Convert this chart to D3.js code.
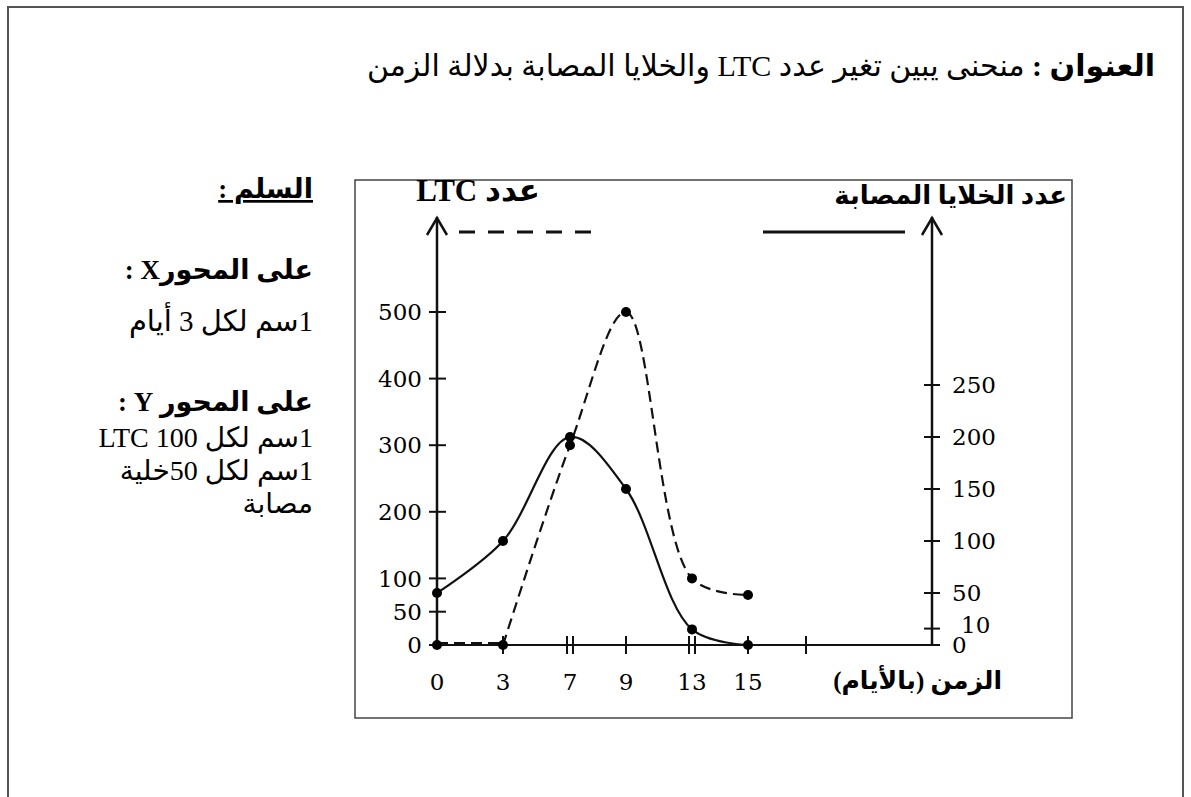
<!DOCTYPE html>
<html><head><meta charset="utf-8">
<script src="https://cdn.jsdelivr.net/npm/d3@7"></script>
<style>body{margin:0;background:#fff}svg{display:block}</style>
</head><body><svg id="c" width="1191" height="797"></svg>
<script>
// ---- data ----
const days = [0, 3, 7, 9, 13, 15];
const ltcValues = [0, 0, 300, 500, 100, 75];          // dashed, left axis
const infectedValues = [50, 100, 200, 150, 15, 0];     // solid, right axis
const xTickDays = [0, 3, 7, 9, 13, 15, 18];
const xTickLabels = ["0", "3", "7", "9", "13", "15", ""];
const doubleTickDays = [7, 13];
const leftTicks = [0, 50, 100, 200, 300, 400, 500];
const rightTicks = [0, 10, 50, 100, 150, 200, 250];
const titleBold = "العنوان :";
const titleRest = " منحنى يبين تغير عدد LTC والخلايا المصابة بدلالة الزمن";
const leftAxisTitle = "عدد LTC";
const rightAxisTitle = "عدد الخلايا المصابة";
const xAxisTitle = "الزمن (بالأيام)";
const scaleLines = [
  {t: "السلم :", bold: true, u: true},
  {t: "على المحورX :", bold: true},
  {t: "1سم لكل 3 أيام", bold: false},
  {t: "على المحور Y :", bold: true},
  {t: "1سم لكل 100 LTC", bold: false},
  {t: "1سم لكل 50خلية", bold: false},
  {t: "مصابة", bold: false}
];

// ---- layout ----
const svg = d3.select("#c");
const FONT = "'Liberation Serif','DejaVu Sans',serif";
const NUMFONT = "'DejaVu Serif',serif";
const x0 = 437, xRightAxis = 932, yZero = 645, yTopArrow = 217;
const slotGaps = [0, 66, 133, 189, 255, 311, 369];
const x = d3.scaleLinear().domain(xTickDays).range(slotGaps.map(g => x0 + g));
const yL = d3.scaleLinear().domain([0, 500]).range([yZero, 312]);
const yR = d3.scaleLinear().domain([0, 250]).range([yZero, 385]);

// outer frame
svg.append("path").attr("d", "M8,800 L8,7 L1183,7 L1183,800")
  .attr("fill", "none").attr("stroke", "#555").attr("stroke-width", 2);
// inner chart box
svg.append("rect").attr("x", 355).attr("y", 180).attr("width", 717).attr("height", 538)
  .attr("fill", "none").attr("stroke", "#444").attr("stroke-width", 1.5);

// title
const tt = svg.append("text").attr("x", 1155).attr("y", 76)
  .attr("direction", "rtl").attr("text-anchor", "start")
  .style("font-family", FONT).style("font-size", "30px");
tt.append("tspan").style("font-weight", "bold").text(titleBold);
tt.append("tspan").text(titleRest);

// scale block
const scaleY = [198, 279, 331, 411, 447, 480, 513];
scaleLines.forEach((l, i) => {
  svg.append("text").attr("x", 313).attr("y", scaleY[i])
    .attr("direction", "rtl").attr("text-anchor", "start")
    .style("font-family", FONT).style("font-size", l.bold ? "27px" : (i >= 4 ? "28px" : "29px"))
    .style("font-weight", l.bold ? "bold" : "normal")
    .style("text-decoration", l.u ? "underline" : "none")
    .text(l.t);
});

// axes
const axisG = svg.append("g").attr("stroke", "#111").attr("fill", "none");
axisG.append("line").attr("x1", x0).attr("x2", x0).attr("y1", yZero).attr("y2", yTopArrow).attr("stroke-width", 2.5);
axisG.append("line").attr("x1", xRightAxis).attr("x2", xRightAxis).attr("y1", yZero).attr("y2", yTopArrow).attr("stroke-width", 2.5);
axisG.append("line").attr("x1", x0).attr("x2", xRightAxis).attr("y1", yZero).attr("y2", yZero).attr("stroke-width", 2);
[x0, xRightAxis].forEach(ax => {
  axisG.append("path").attr("d", `M${ax - 10},${yTopArrow + 18} L${ax},${yTopArrow + 1} L${ax + 10},${yTopArrow + 18}`)
    .attr("stroke-width", 2.5);
});

// left ticks
leftTicks.forEach(v => {
  axisG.append("line").attr("x1", x0 - 8).attr("x2", x0 + 9).attr("y1", yL(v)).attr("y2", yL(v)).attr("stroke-width", 2);
  svg.append("text").attr("x", x0 - 15).attr("y", yL(v)).attr("dy", "0.36em")
    .attr("text-anchor", "end").style("font-family", NUMFONT).style("font-size", "23px").text(v);
});
// right ticks
rightTicks.forEach(v => {
  axisG.append("line").attr("x1", xRightAxis - 8).attr("x2", xRightAxis + 8).attr("y1", yR(v) - (v === 10 ? 6 : 0)).attr("y2", yR(v) - (v === 10 ? 6 : 0)).attr("stroke-width", 2);
  svg.append("text").attr("x", xRightAxis + 20 + (v === 10 ? 9 : 0)).attr("y", yR(v) - (v === 10 ? 10 : 0)).attr("dy", "0.36em")
    .attr("text-anchor", "start").style("font-family", NUMFONT).style("font-size", "23px").text(v);
});
// x ticks
xTickDays.forEach((d, i) => {
  if (d > 0) {
    const offs = doubleTickDays.includes(d) ? [-3, 3] : [0];
    offs.forEach(o => axisG.append("line").attr("x1", x(d) + o).attr("x2", x(d) + o)
      .attr("y1", yZero - 9).attr("y2", yZero + 9).attr("stroke-width", 2));
  }
  svg.append("text").attr("x", x(d)).attr("y", 690).attr("text-anchor", "middle")
    .style("font-family", NUMFONT).style("font-size", "23px").text(xTickLabels[i]);
});

// axis titles
svg.append("text").attr("x", 540).attr("y", 201).attr("direction", "rtl").attr("text-anchor", "start")
  .style("font-family", FONT).style("font-size", "31px").style("font-weight", "bold").text(leftAxisTitle);
svg.append("text").attr("x", 1067).attr("y", 204).attr("direction", "rtl").attr("text-anchor", "start")
  .style("font-family", FONT).style("font-size", "26px").style("font-weight", "bold").text(rightAxisTitle);
svg.append("text").attr("x", 1002).attr("y", 689).attr("direction", "rtl").attr("text-anchor", "start")
  .style("font-family", FONT).style("font-size", "25px").style("font-weight", "bold").text(xAxisTitle);

// legend keys
svg.append("line").attr("x1", 459).attr("x2", 602).attr("y1", 232).attr("y2", 232)
  .attr("stroke", "#111").attr("stroke-width", 3).attr("stroke-dasharray", "16,13");
svg.append("line").attr("x1", 763).attr("x2", 905).attr("y1", 232).attr("y2", 232)
  .attr("stroke", "#111").attr("stroke-width", 3);

// curves
const ltcPts = days.map((d, i) => [d, ltcValues[i]]);
const infPts = days.map((d, i) => [d, infectedValues[i]]);
const lineL = d3.line().x(p => x(p[0])).y(p => yL(p[1]));
svg.append("path").attr("d", d3.line().x(p => x(p[0])).y(p => yL(p[1]) - 2)(ltcPts.slice(0, 2)))
  .attr("fill", "none").attr("stroke", "#111").attr("stroke-width", 2.2).attr("stroke-dasharray", "11,6");
svg.append("path").attr("d", lineL.curve(d3.curveCatmullRom.alpha(0.5))(ltcPts.slice(1)))
  .attr("fill", "none").attr("stroke", "#111").attr("stroke-width", 2.2).attr("stroke-dasharray", "11,6");
const lineR = d3.line().x(p => x(p[0])).y(p => yR(p[1])).curve(d3.curveCatmullRom.alpha(0.5));
svg.append("path").attr("d", lineR(infPts))
  .attr("fill", "none").attr("stroke", "#111").attr("stroke-width", 2.2);

// dots
svg.selectAll(".dl").data(ltcPts).enter().append("circle")
  .attr("cx", p => x(p[0])).attr("cy", p => yL(p[1])).attr("r", 5).attr("fill", "#000");
svg.selectAll(".dr").data(infPts).enter().append("circle")
  .attr("cx", p => x(p[0])).attr("cy", p => yR(p[1])).attr("r", 5).attr("fill", "#000");
</script></body></html>
